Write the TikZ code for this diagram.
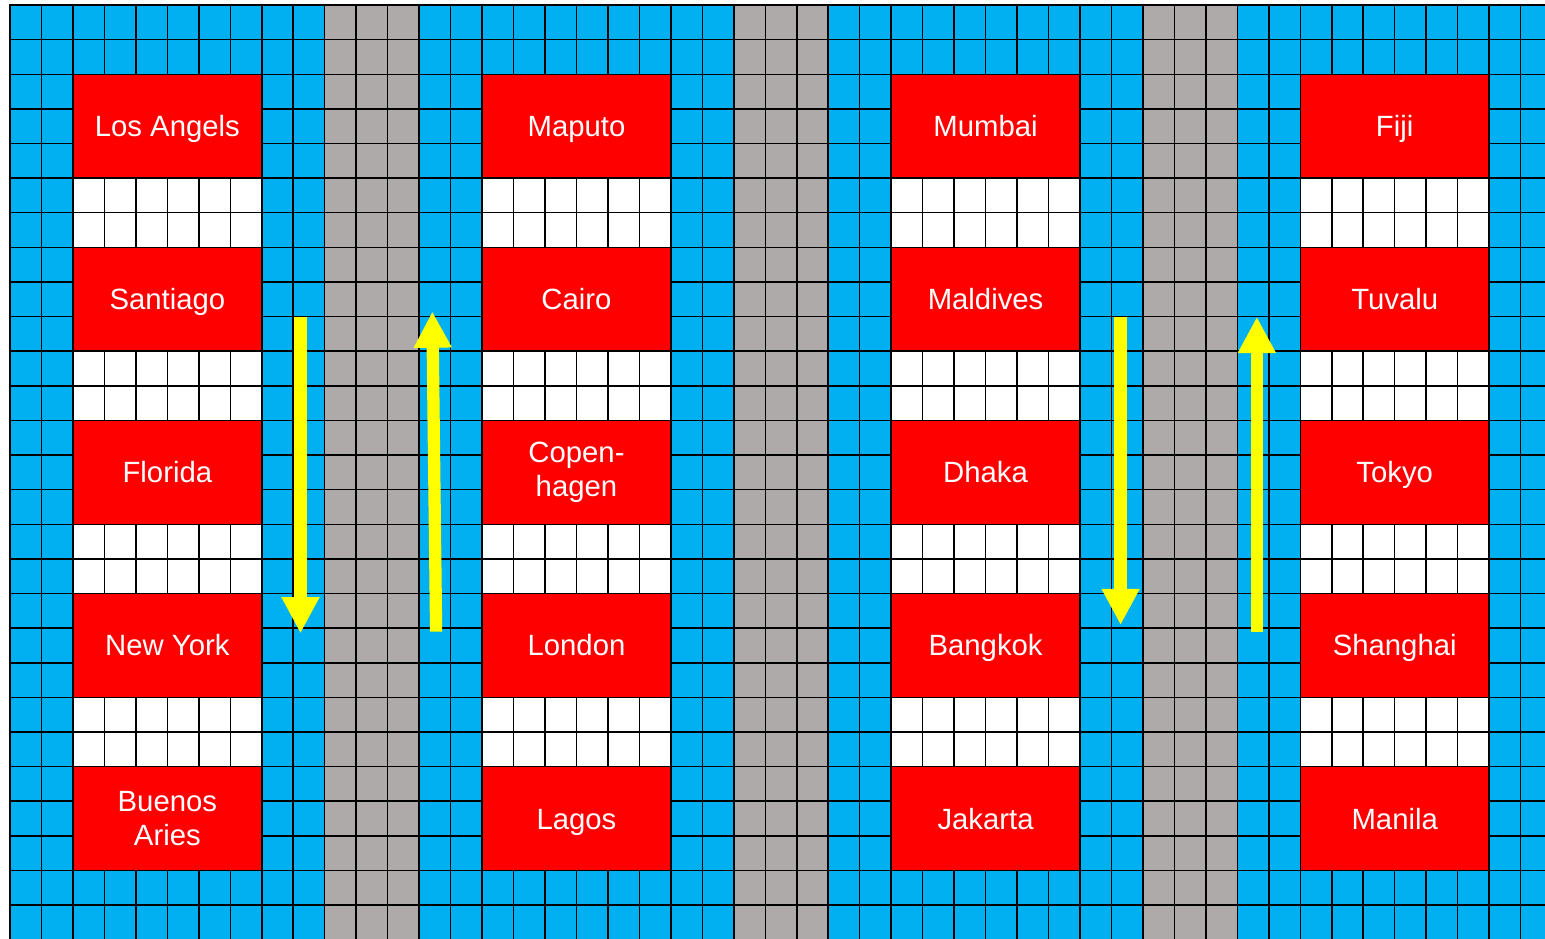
\documentclass[tikz,border=0pt]{standalone}
\usepackage{fontspec}
\setmainfont{Liberation Sans}
\usetikzlibrary{arrows.meta}
\definecolor{sea}{HTML}{00B0F0}
\definecolor{road}{HTML}{AEAAAA}
\definecolor{plot}{HTML}{FF0000}
\definecolor{flow}{HTML}{FFFF00}

\begin{document}
\begin{tikzpicture}[x=1cm,y=1.1cm,
  lot/.style={draw=black,line width=1.35pt,fill=plot,text=white,minimum width=6cm,minimum height=3.3cm,inner sep=0pt,align=center,font=\fontsize{26.5}{30}\selectfont},
  town/.style={lot,text height=19pt,text depth=0pt},
  twoline/.style={lot},
  lane/.style={flow,line width=0.39cm,-{Triangle[width=1.13cm,length=1.15cm]}},
  gridline/.style={black,line width=1.35pt,line cap=rect}]
\useasboundingbox (-0.318,0.145) rectangle (48.776,-26.962);
\fill[white] (-0.318,0.145) rectangle (48.776,-26.962);
\clip (-0.318,0.145) rectangle (48.776,-26.962);
% water, roads and free lots
\fill[sea] (0,0) rectangle (49,-27);
\foreach \c in {10,23,36} \fill[road] (\c,0) rectangle (\c+3,-27);
\foreach \c in {2,15,28,41} \fill[white] (\c,-2) rectangle (\c+6,-25);
% grid
\foreach \c in {0,...,49} \draw[gridline] (\c,0) -- (\c,-27);
\foreach \r in {0,...,27} \draw[gridline] (0,-\r) -- (49,-\r);
% first block
\node[town] (la) at (5,-3.5) {Los Angels};
\node[town] (sant) at (5,-8.5) {Santiago};
\node[town] (flo) at (5,-13.5) {Florida};
\node[town] (ny) at (5,-18.5) {New York};
\node[twoline] (ba) at (5,-23.5) {Buenos\\Aries};
% second block
\node[town] (map) at (18,-3.5) {Maputo};
\node[town] (cai) at (18,-8.5) {Cairo};
\node[twoline] (cph) at (18,-13.5) {Copen-\\hagen};
\node[town] (lon) at (18,-18.5) {London};
\node[town] (lag) at (18,-23.5) {Lagos};
% third block
\node[town] (mum) at (31,-3.5) {Mumbai};
\node[town] (mal) at (31,-8.5) {Maldives};
\node[town] (dha) at (31,-13.5) {Dhaka};
\node[town] (bkk) at (31,-18.5) {Bangkok};
\node[town] (jak) at (31,-23.5) {Jakarta};
% fourth block
\node[town] (fij) at (44,-3.5) {Fiji};
\node[town] (tuv) at (44,-8.5) {Tuvalu};
\node[town] (tok) at (44,-13.5) {Tokyo};
\node[town] (sha) at (44,-18.5) {Shanghai};
\node[town] (man) at (44,-23.5) {Manila};
% traffic
\coordinate (d1s) at (9.23,-9.007);
\coordinate (d1e) at (9.23,-18.15);
\coordinate (u1s) at (13.54,-18.10);
\coordinate (u1e) at (13.42,-8.853);
\coordinate (d2s) at (35.29,-9.007);
\coordinate (d2e) at (35.29,-17.91);
\coordinate (u2s) at (39.62,-18.10);
\coordinate (u2e) at (39.62,-9.007);
\draw[lane] (d1s) -- (d1e);
\draw[lane] (u1s) -- (u1e);
\draw[lane] (d2s) -- (d2e);
\draw[lane] (u2s) -- (u2e);
\end{tikzpicture}
\end{document}
